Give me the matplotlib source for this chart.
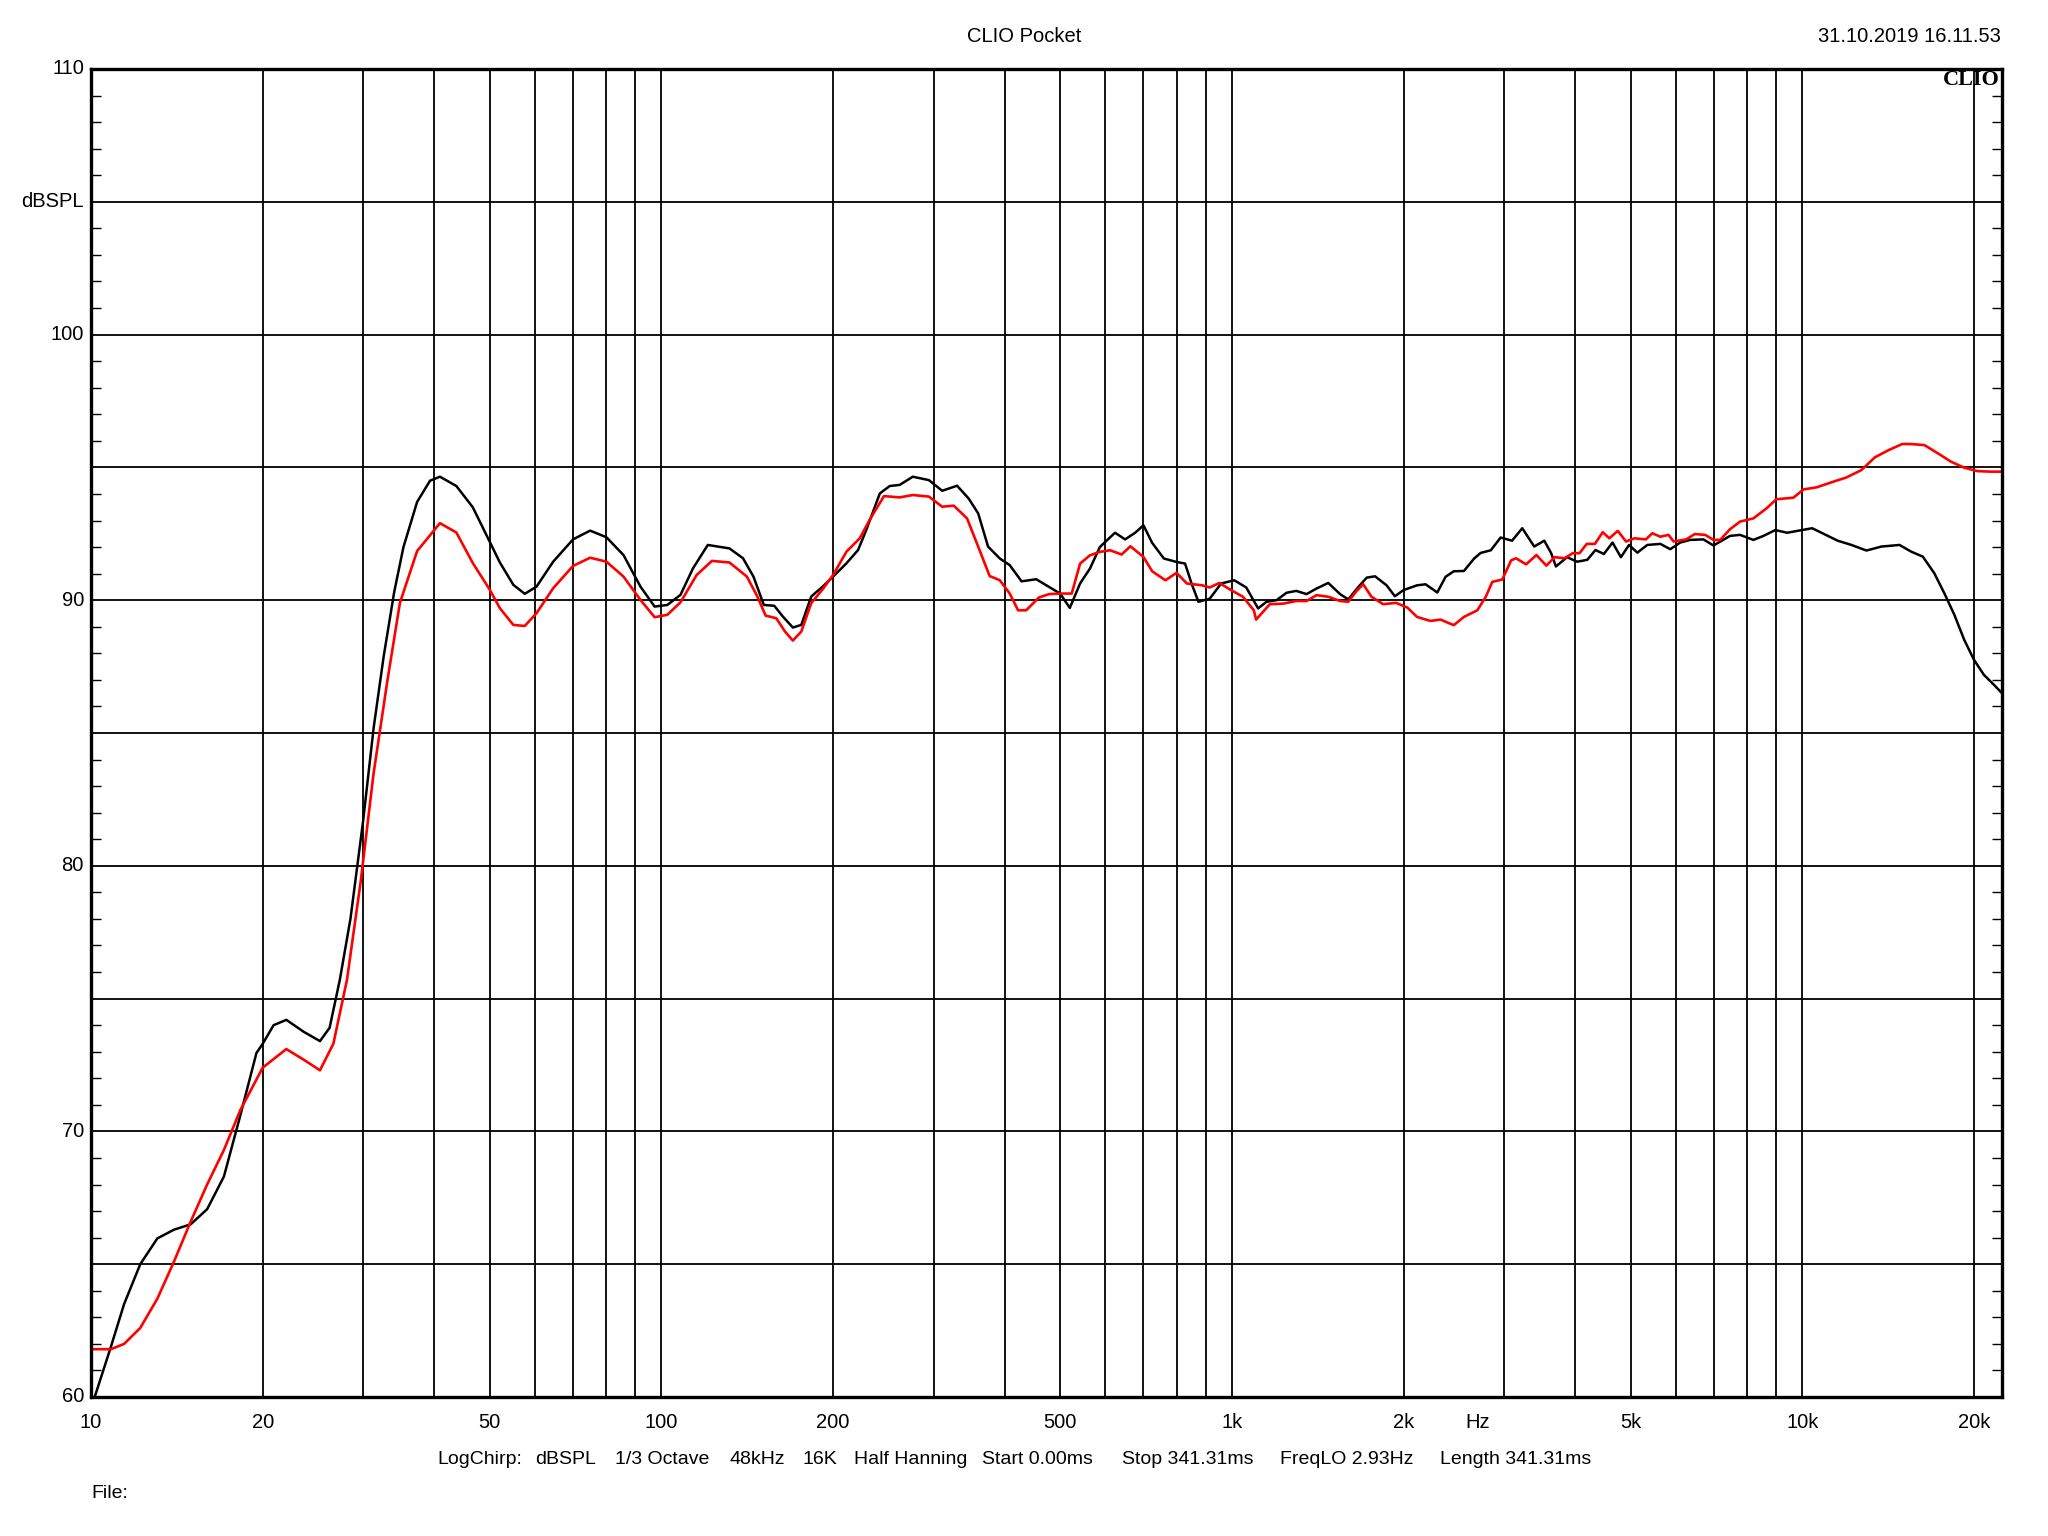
import matplotlib
matplotlib.use("Agg")
import matplotlib.pyplot as plt
from matplotlib.ticker import FixedLocator, NullLocator, NullFormatter

# ---------------- data ----------------
black_f = [10.15, 10.84, 11.43, 12.2, 13.07, 13.98, 14.95, 15.98, 17.1, 18.27, 19.5, 20.0, 20.9, 22.0,
           23.6, 25.2, 26.2, 27.3, 28.5, 30.0, 31.3, 32.6, 34.0, 35.3, 37.3, 39.3, 40.9, 43.7, 46.7,
           50.0, 52.1, 55.0, 57.6, 60.4, 64.6, 70.0, 75.0, 80.1, 85.8, 91.9, 97.3, 102.4, 108.0,
           113.6, 120.6, 131.6, 139.0, 145.0, 151.2, 157.7, 163.2, 170.0, 175.9, 183.1, 191.7, 200.0,
           211.1, 221.2, 228.6, 241.5, 251.4, 261.6, 275.9, 294.5, 310.6, 329.9, 345.6, 359.2, 373.8,
           392, 408, 428, 454, 478, 500, 520, 542, 564, 587, 624, 650, 677, 700, 725, 760, 800, 828,
           850, 874, 915, 958, 1010, 1060, 1112, 1150, 1198, 1247, 1297, 1352, 1408, 1476, 1548,
           1600, 1667, 1724, 1783, 1868, 1931, 2000, 2112, 2186, 2292, 2370, 2450, 2552, 2660, 2731,
           2845, 2960, 3100, 3230, 3390, 3530, 3630, 3700, 3870, 4030, 4200, 4340, 4490, 4650, 4810,
           4970, 5140, 5350, 5640, 5870, 6110, 6360, 6710, 6990, 7470, 7780, 8210, 8550, 8970, 9410,
           10000, 10410, 10920, 11540, 12200, 12960, 13770, 14810, 15520, 16270, 17040, 17750,
           18480, 19230, 20000, 20820, 21670, 22400]
black_db = [60.0, 61.9, 63.5, 65.0, 65.97, 66.3, 66.5, 67.07, 68.3, 70.6, 72.95, 73.3, 74.0, 74.2,
            73.75, 73.4, 73.9, 75.7, 78.0, 81.7, 85.2, 87.9, 90.3, 92.0, 93.7, 94.5, 94.65, 94.3, 93.5,
            92.2, 91.42, 90.58, 90.24, 90.51, 91.45, 92.29, 92.62, 92.37, 91.7, 90.51, 89.76, 89.82, 90.2,
            91.2, 92.08, 91.95, 91.58, 90.89, 89.82, 89.79, 89.39, 88.97, 89.07, 90.14, 90.51, 90.89,
            91.39, 91.89, 92.64, 94.02, 94.3, 94.34, 94.65, 94.52, 94.12, 94.31, 93.83, 93.27, 92.02,
            91.57, 91.32, 90.71, 90.79, 90.5, 90.25, 89.71, 90.63, 91.19, 92.0, 92.54, 92.29, 92.54,
            92.82, 92.16, 91.57, 91.44, 91.38, 90.63, 89.94, 90.06, 90.63, 90.75, 90.48, 89.69, 89.94,
            90.0, 90.28, 90.35, 90.23, 90.44, 90.65, 90.23, 90.03, 90.5, 90.85, 90.9, 90.56, 90.15,
            90.38, 90.56, 90.6, 90.29, 90.88, 91.09, 91.1, 91.57, 91.78, 91.88, 92.36, 92.24, 92.71,
            92.02, 92.24, 91.77, 91.27, 91.62, 91.45, 91.52, 91.89, 91.74, 92.17, 91.62, 92.08, 91.79,
            92.08, 92.12, 91.92, 92.17, 92.27, 92.29, 92.06, 92.42, 92.46, 92.27, 92.42, 92.64, 92.54,
            92.64, 92.71, 92.49, 92.24, 92.08, 91.87, 92.02, 92.08, 91.83, 91.64, 91.02, 90.26, 89.45,
            88.51, 87.76, 87.19, 86.82, 86.5]

red_f = [10.0, 10.84, 11.43, 12.2, 13.07, 13.98, 14.95, 15.98, 17.1, 18.27, 20.0, 22.0, 23.6, 25.2,
         26.6, 28.1, 29.7, 31.3, 33.1, 34.8, 37.3, 40.9, 43.7, 46.7, 50.0, 52.1, 55.0, 57.6, 60.4,
         64.6, 70.0, 75.0, 80.1, 85.8, 91.9, 97.3, 102.4, 108.0, 115.3, 122.6, 131.6, 141.2, 147.3,
         152.3, 159.0, 164.7, 170.0, 175.9, 183.1, 191.7, 200.0, 211.1, 222.7, 231.7, 245.6, 261.6,
         275.9, 294.5, 310.6, 325.5, 343.4, 359.2, 376.2, 392, 408, 422, 436, 459, 478, 500, 524,
         542, 564, 587, 612, 641, 664, 700, 725, 765, 800, 834, 887, 915, 951, 997, 1046, 1093,
         1103, 1166, 1230, 1297, 1352, 1408, 1476, 1548, 1600, 1655, 1700, 1757, 1842, 1941, 2032,
         2112, 2229, 2322, 2450, 2552, 2694, 2788, 2862, 2980, 3088, 3150, 3280, 3420, 3560, 3680,
         3830, 3960, 4070, 4190, 4330, 4470, 4590, 4750, 4910, 5080, 5320, 5460, 5640, 5830, 5950,
         6260, 6480, 6760, 6990, 7180, 7470, 7780, 8210, 8660, 9010, 9650, 10050, 10600, 11330,
         11950, 12700, 13410, 14170, 14970, 15520, 16380, 17290, 18250, 19230, 20280, 21400, 22400]
red_db = [61.8, 61.8, 62.0, 62.6, 63.7, 65.1, 66.6, 68.0, 69.3, 70.8, 72.4, 73.1, 72.7, 72.3,
          73.3, 75.7, 79.4, 83.5, 87.0, 89.9, 91.85, 92.9, 92.55, 91.4, 90.4, 89.7, 89.07, 89.03, 89.51,
          90.45, 91.29, 91.6, 91.45, 90.89, 90.01, 89.36, 89.45, 89.92, 90.95, 91.48, 91.42, 90.89, 90.14,
          89.42, 89.32, 88.82, 88.48, 88.82, 89.89, 90.41, 90.95, 91.83, 92.33, 93.02, 93.92, 93.87,
          93.96, 93.9, 93.52, 93.56, 93.08, 92.02, 90.91, 90.75, 90.25, 89.62, 89.62, 90.1, 90.23, 90.25,
          90.25, 91.38, 91.69, 91.82, 91.88, 91.72, 92.03, 91.63, 91.09, 90.75, 91.03, 90.63, 90.56,
          90.48, 90.65, 90.38, 90.13, 89.62, 89.27, 89.85, 89.87, 89.97, 89.97, 90.19, 90.13, 89.97,
          89.94, 90.35, 90.6, 90.13, 89.85, 89.9, 89.72, 89.37, 89.22, 89.27, 89.06, 89.37, 89.62,
          90.13, 90.69, 90.78, 91.5, 91.58, 91.35, 91.7, 91.3, 91.62, 91.58, 91.77, 91.77, 92.12,
          92.12, 92.56, 92.33, 92.61, 92.21, 92.33, 92.29, 92.52, 92.39, 92.46, 92.21, 92.29, 92.49,
          92.46, 92.27, 92.27, 92.67, 92.96, 93.08, 93.46, 93.8, 93.86, 94.17, 94.25, 94.46, 94.62,
          94.9, 95.38, 95.65, 95.88, 95.88, 95.84, 95.53, 95.21, 94.99, 94.86, 94.84, 94.84]

x_grid = [10, 20, 30, 40, 50, 60, 70, 80, 90, 100, 200, 300, 400, 500, 600, 700, 800, 900,
          1000, 2000, 3000, 4000, 5000, 6000, 7000, 8000, 9000, 10000, 20000]
x_label_vals = [10, 20, 50, 100, 200, 500, 1000, 2000, 5000, 10000, 20000]
x_label_txt = ["10", "20", "50", "100", "200", "500", "1k", "2k", "5k", "10k", "20k"]
y_label_vals = [60, 70, 80, 90, 100, 105, 110]
y_label_txt = ["60", "70", "80", "90", "100", "dBSPL", "110"]

info_items = ["LogChirp:", "dBSPL", "1/3 Octave", "48kHz", "16K", "Half Hanning",
              "Start 0.00ms", "Stop 341.31ms", "FreqLO 2.93Hz", "Length 341.31ms"]
info_x = [437, 535, 615, 729, 802, 854, 982, 1122, 1280, 1440]

# ---------------- figure ----------------
W, H = 2048, 1536
plt.rcParams['font.family'] = ['Liberation Sans', 'DejaVu Sans']
fig = plt.figure(figsize=(W / 100, H / 100), dpi=100)
L, R, T, B = 91, 2002, 69, 1397
ax = fig.add_axes([L / W, 1 - B / H, (R - L) / W, (B - T) / H])

ax.set_xscale('log')
ax.set_xlim(10, 22400)
ax.set_ylim(60, 110)

ax.plot(black_f, black_db, color='black', lw=1.8, zorder=3, solid_joinstyle='round')
ax.plot(red_f, red_db, color='#ff0000', lw=1.9, zorder=4, solid_joinstyle='round')

# grid
ax.xaxis.set_major_locator(FixedLocator(x_grid))
ax.xaxis.set_minor_locator(NullLocator())
ax.xaxis.set_major_formatter(NullFormatter())
ax.xaxis.set_minor_formatter(NullFormatter())
ax.yaxis.set_major_locator(FixedLocator(list(range(60, 111, 5))))
ax.yaxis.set_major_formatter(NullFormatter())
ax.yaxis.set_minor_locator(FixedLocator([v for v in range(60, 111) if v % 5 != 0]))
ax.grid(which='major', color='black', lw=1.3)
ax.tick_params(axis='both', which='major', length=0)
ax.tick_params(axis='y', which='minor', direction='in', length=7, width=1.0,
               left=True, right=True, color='black')
ax.tick_params(axis='x', which='minor', length=0)
for s in ax.spines.values():
    s.set_linewidth(2.4)
    s.set_zorder(6)

def fx(px):
    return px / W

def fy(py):
    return 1 - py / H

FS = 14.5

# y labels
for v, t in zip(y_label_vals, y_label_txt):
    py = B - (v - 60) / 50 * (B - T)
    fig.text(fx(84), fy(py), t, ha='right', va='center', fontsize=FS)

# x labels
for v, t in zip(x_label_vals, x_label_txt):
    ax.text(v, -26 / (B - T), t, transform=ax.get_xaxis_transform(),
            ha='center', va='center', fontsize=FS, clip_on=False)
fig.text(fx(1478), fy(1423), "Hz", ha='center', va='center', fontsize=FS)

# header
fig.text(fx(1024), fy(37), "CLIO Pocket", ha='center', va='center', fontsize=FS)
fig.text(fx(2001), fy(37), "31.10.2019 16.11.53", ha='right', va='center', fontsize=FS)
fig.text(fx(2000), fy(85), "CLIO", ha='right', va='baseline', fontsize=16,
         family='Liberation Serif', fontweight='bold', zorder=10)

# footer
for t, px in zip(info_items, info_x):
    fig.text(fx(px), fy(1459), t, ha='left', va='center', fontsize=14)
fig.text(fx(91), fy(1493), "File:", ha='left', va='center', fontsize=14)

fig.savefig("out.png", dpi=100, facecolor='white')
